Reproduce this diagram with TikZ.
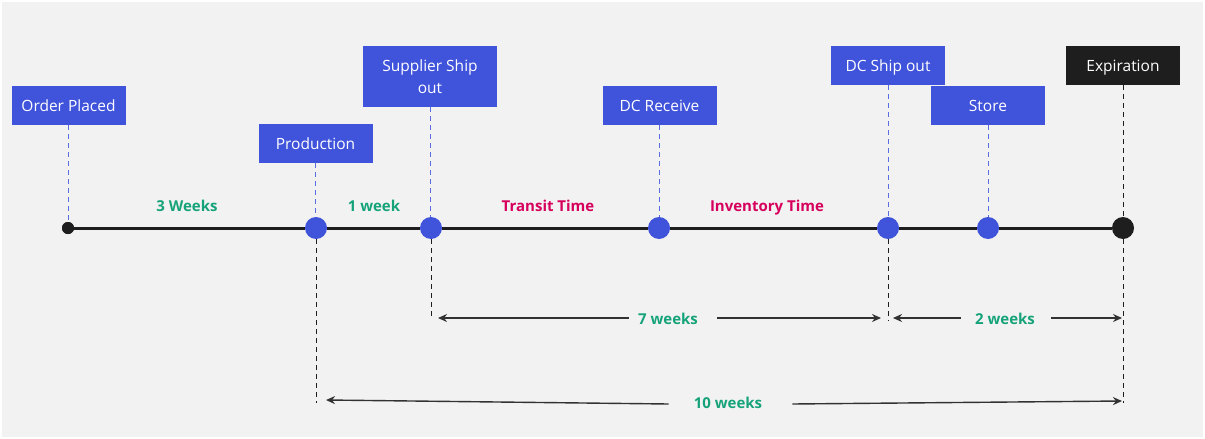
\documentclass[tikz,border=0pt]{standalone}
\usepackage{fontspec}
\setmainfont{Open Sans}
\usetikzlibrary{arrows.meta}
\definecolor{bg}{RGB}{242,242,242}
\definecolor{boxblue}{RGB}{64,83,219}
\definecolor{dashblue}{RGB}{90,108,225}
\definecolor{boxblack}{RGB}{30,30,30}
\definecolor{tgreen}{RGB}{22,163,122}
\definecolor{tpink}{RGB}{214,0,92}
\definecolor{arrgray}{RGB}{50,50,50}
\tikzset{
  evbase/.style={fill=boxblue, text=white, minimum width=114pt, minimum height=39pt, inner sep=2pt, font=\fontsize{15.5}{22}\selectfont, align=center},
  ev/.style={evbase, text height=12.5pt, text depth=0pt},
  evblack/.style={ev, fill=boxblack},
  bdot/.style={circle, fill=boxblue, minimum size=22pt, inner sep=0pt},
  kdot/.style={circle, fill=boxblack, minimum size=22pt, inner sep=0pt},
  sdot/.style={circle, fill=boxblack, minimum size=12pt, inner sep=0pt},
  bdash/.style={dashblue, line width=1pt, dash pattern=on 5pt off 4pt},
  kdash/.style={boxblack, line width=1pt, dash pattern=on 5pt off 4pt},
  seglbl/.style={font=\bfseries\fontsize{15}{18}\selectfont, text height=12pt, text depth=0pt},
  durlbl/.style={font=\bfseries\fontsize{15}{18}\selectfont, text=tgreen, inner ysep=2pt, text height=12pt, text depth=0pt},
  arr/.style={arrgray, line width=1.4pt, -{Stealth[length=9pt,width=8pt]}},
}
\begin{document}
\begin{tikzpicture}[x=1pt,y=-1pt]
\fill[white] (0,0) rectangle (1205,439);
\fill[bg] (2,2) rectangle (1203,437);
\useasboundingbox (0,0) rectangle (1205,439);

% timeline dots
\node[sdot] (d0) at (68,228) {};
\node[bdot] (d1) at (316,228) {};
\node[bdot] (d2) at (431,228) {};
\node[bdot] (d3) at (659,228) {};
\node[bdot] (d4) at (888,228) {};
\node[bdot] (d5) at (988,228) {};
\node[kdot] (d6) at (1123,228) {};

% event boxes
\node[ev] (b0) at (68.5,105.5) {Order Placed};
\node[ev] (b1) at (315.5,143.5) {Production};
\node[evbase, minimum height=61pt, minimum width=134pt] (b2) at (430,76.5) {Supplier Ship\\out};
\node[ev] (b3) at (659.5,105.5) {DC Receive};
\node[ev] (b4) at (888,65.5) {DC Ship out};
\node[ev] (b5) at (988,105.5) {Store};
\node[evblack] (b6) at (1123,65.5) {Expiration};

% dashed connectors
\draw[bdash] (b0.south) -- (b0.south |- d0.north);
\draw[bdash] (b1.south) -- (b1.south |- d1.north);
\draw[bdash] (b2.south) -- (b2.south |- d2.north);
\draw[bdash] (b3.south) -- (b3.south |- d3.north);
\draw[bdash] (b4.south) -- (b4.south |- d4.north);
\draw[bdash] (b5.south) -- (b5.south |- d5.north);
\draw[kdash] (b6.south) -- (b6.south |- d6.north);

% main line
\draw[boxblack, line width=3pt] (d0.center) -- (d1.west);
\draw[boxblack, line width=3pt] (d1.east) -- (d2.west);
\draw[boxblack, line width=3pt] (d2.east) -- (d3.west);
\draw[boxblack, line width=3pt] (d3.east) -- (d4.west);
\draw[boxblack, line width=3pt] (d4.east) -- (d5.west);
\draw[boxblack, line width=3pt] (d5.east) -- (d6.west);
\node[sdot] at (68,228) {};

% segment labels
\node[seglbl, text=tgreen] (l1) at (187,205) {3 Weeks};
\node[seglbl, text=tgreen] (l2) at (374,205) {1 week};
\node[seglbl, text=tpink] (l3) at (548,205) {Transit Time};
\node[seglbl, text=tpink] (l4) at (767,205) {Inventory Time};

% dashed drops below timeline
\coordinate (v1) at (316,403);
\coordinate (v2) at (431,319);
\coordinate (v4) at (888,321);
\coordinate (v6) at (1123,403);
\draw[kdash] (d1.south) -- (v1);
\draw[kdash] (d2.south) -- (v2);
\draw[kdash] (d4.south) -- (v4);
\draw[kdash] (d6.south) -- (v6);

% duration arrows
\coordinate (a7l) at (438,318);
\coordinate (a7r) at (881,318);
\node[durlbl, inner xsep=0pt] (w7) at (668,318) {7 weeks};
\draw[arr] ([xshift=-9pt]w7.west) -- (a7l);
\draw[arr] ([xshift=19pt]w7.east) -- (a7r);

\coordinate (a2l) at (893,318);
\coordinate (a2r) at (1122,318);
\node[durlbl, inner xsep=0pt] (w2) at (1005,318) {2 weeks};
\draw[arr] ([xshift=-14pt]w2.west) -- (a2l);
\draw[arr] ([xshift=16pt]w2.east) -- (a2r);

\coordinate (a10l) at (326,400);
\coordinate (a10r) at (1122,401);
\node[durlbl, inner xsep=0pt] (w10) at (728,402) {10 weeks};
\draw[arr] ([xshift=-25pt,yshift=-2pt]w10.west) -- (a10l);
\draw[arr] ([xshift=30pt,yshift=-2pt]w10.east) -- (a10r);
\end{tikzpicture}
\end{document}
